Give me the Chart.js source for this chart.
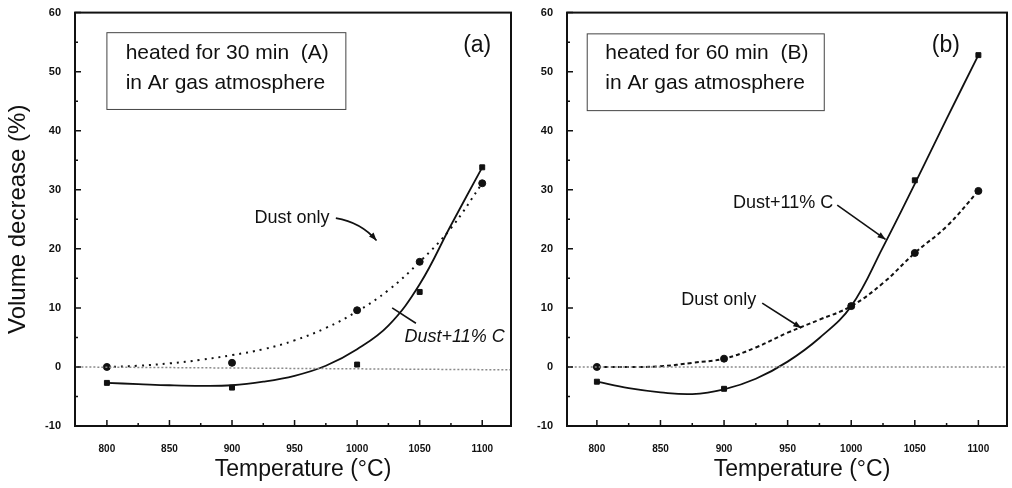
<!DOCTYPE html>
<html>
<head>
<meta charset="utf-8">
<script src="https://cdn.jsdelivr.net/npm/chart.js@4.4.1/dist/chart.umd.min.js"></script>
<style>
  body { margin: 0; background: #fff; width: 1012px; height: 488px; overflow: hidden; position: relative; }
  .panel { position: absolute; top: 0; height: 488px; }
</style>
</head>
<body>

<div class="panel" style="left:0;width:516px"><canvas id="chartA"></canvas></div>
<div class="panel" style="left:516px;width:496px"><canvas id="chartB"></canvas></div>

<script>
// measured points
const temps = [800, 900, 1000, 1050, 1100];
const dustA = [0, 0.7, 9.6, 17.8, 31.1];
const carbonA = [-2.7, -3.5, 0.4, 12.7, 33.8];
const dustB = [0, 1.4, 10.3, 19.3, 29.8];
const carbonB = [-2.5, -3.7, 10.3, 31.6, 52.8];

// fitted curves
const fitTemps = [800, 825, 850, 875, 900, 925, 950, 975, 1000, 1025, 1050, 1075, 1100];
const dustFitA = [0, 0.2, 0.6, 1.2, 2.0, 3.0, 4.5, 6.6, 9.4, 13.0, 17.8, 23.5, 31.1];
const carbonFitA = [-2.7, -2.9, -3.1, -3.2, -3.1, -2.5, -1.5, 0.2, 3.0, 7.0, 14.0, 24.0, 33.8];
const dustFitB = [0, 0, 0.1, 0.7, 1.4, 3.3, 5.8, 8.0, 10.3, 14.2, 19.3, 23.8, 29.8];
const carbonFitB = [-2.5, -3.6, -4.3, -4.6, -3.8, -2.0, 0.9, 4.9, 10.3, 20.3, 31.0, 42.0, 52.8];

// zero reference line
const zeroTemps = [770, 1130];
const zeroA = [0, -0.5];
const zeroB = [0, 0];

const xTicks = [800, 850, 900, 950, 1000, 1050, 1100];
const yTicks = [-10, 0, 10, 20, 30, 40, 50, 60];

const FONT = "'Liberation Sans', Arial, sans-serif";

const decor = {
  id: 'decor',
  afterDraw(chart, args, opts) {
    const { ctx, chartArea: a } = chart;
    const x = chart.scales.x, y = chart.scales.y;
    const px = t => x.getPixelForValue(t), py = v => y.getPixelForValue(v);
    ctx.save();
    ctx.strokeStyle = '#111';
    ctx.fillStyle = '#111';
    ctx.lineWidth = 2;
    ctx.strokeRect(a.left, a.top, a.right - a.left, a.bottom - a.top);

    // inward ticks
    ctx.lineWidth = 1.5;
    ctx.beginPath();
    xTicks.forEach(t => {
      ctx.moveTo(px(t), a.bottom); ctx.lineTo(px(t), a.bottom - 6);
      if (t + 25 < x.max) { ctx.moveTo(px(t + 25), a.bottom); ctx.lineTo(px(t + 25), a.bottom - 3); }
    });
    yTicks.forEach(v => {
      ctx.moveTo(a.left, py(v)); ctx.lineTo(a.left + 6, py(v));
      if (v + 5 < y.max) { ctx.moveTo(a.left, py(v + 5)); ctx.lineTo(a.left + 3, py(v + 5)); }
    });
    ctx.stroke();

    // text box
    const b = opts.box;
    ctx.lineWidth = 1;
    ctx.strokeStyle = '#444';
    ctx.strokeRect(px(b.x0), py(b.y0), px(b.x1) - px(b.x0), py(b.y1) - py(b.y0));
    ctx.font = '21px ' + FONT;
    ctx.textAlign = 'left';
    ctx.textBaseline = 'middle';
    ctx.fillText(b.lines[0], px(b.tx), py(b.ty[0]));
    ctx.fillText(b.lines[1], px(b.tx), py(b.ty[1]));

    // panel letter
    ctx.font = '23px ' + FONT;
    ctx.textAlign = 'center';
    ctx.fillText(opts.letter.text, px(opts.letter.x), py(opts.letter.y));

    // labels
    opts.labels.forEach(l => {
      ctx.font = (l.italic ? 'italic ' : '') + l.size + 'px ' + FONT;
      ctx.fillText(l.text, px(l.x), py(l.y));
    });

    // pointers
    ctx.strokeStyle = '#111';
    ctx.lineWidth = 1.6;
    opts.pointers.forEach(p => {
      const x0 = px(p.from[0]), y0 = py(p.from[1]);
      const x1 = px(p.to[0]), y1 = py(p.to[1]);
      ctx.beginPath();
      ctx.moveTo(x0, y0);
      let ax = x0, ay = y0;
      if (p.ctrl) {
        const cx = px(p.ctrl[0]), cy = py(p.ctrl[1]);
        ctx.quadraticCurveTo(cx, cy, x1, y1);
        ax = cx; ay = cy;
      } else {
        ctx.lineTo(x1, y1);
      }
      ctx.stroke();
      if (p.head) {
        const ang = Math.atan2(y1 - ay, x1 - ax);
        ctx.beginPath();
        ctx.moveTo(x1, y1);
        ctx.lineTo(x1 - 8 * Math.cos(ang) + 3 * Math.sin(ang), y1 - 8 * Math.sin(ang) - 3 * Math.cos(ang));
        ctx.lineTo(x1 - 8 * Math.cos(ang) - 3 * Math.sin(ang), y1 - 8 * Math.sin(ang) + 3 * Math.cos(ang));
        ctx.closePath();
        ctx.fill();
      }
    });

    // x axis title
    ctx.font = '23px ' + FONT;
    ctx.textAlign = 'center';
    ctx.textBaseline = 'middle';
    ctx.fillText('Temperature (\u00b0C)', (a.left + a.right) / 2 + opts.titleShift, 470);
    ctx.restore();
  }
};

function pts(xs, ys) { return xs.map((t, i) => ({ x: t, y: ys[i] })); }

function makePanel(id, d) {
  const datasets = [
    { data: pts(zeroTemps, d.zero), borderColor: '#8a8a8a', borderWidth: 1.5, borderDash: [2, 2], pointRadius: 0 },
    { data: pts(fitTemps, d.dustFit), borderColor: '#111', borderWidth: 2, borderDash: d.dash, pointRadius: 0, tension: 0.4 },
    { data: pts(fitTemps, d.carbonFit), borderColor: '#111', borderWidth: 1.8, pointRadius: 0, tension: 0.4 },
    { data: pts(temps, d.dust), showLine: false, pointRadius: 3.5, pointStyle: 'circle', backgroundColor: '#111', borderColor: '#111' },
    { data: pts(temps, d.carbon), showLine: false, pointRadius: 3.5, pointStyle: 'rect', backgroundColor: '#111', borderColor: '#111' }
  ];

  new Chart(document.getElementById(id), {
    type: 'line',
    data: { datasets },
    plugins: [decor],
    options: {
      responsive: true,
      maintainAspectRatio: false,
      animation: false,
      layout: { padding: { top: 12, right: d.padRight, left: 0, bottom: 0 } },
      plugins: {
        legend: { display: false },
        tooltip: { enabled: false },
        decor: d.decor
      },
      scales: {
        x: {
          type: 'linear', min: d.xMin, max: d.xMax,
          afterBuildTicks: s => { s.ticks = xTicks.map(v => ({ value: v })); },
          afterFit: s => { s.height = 62; },
          grid: { display: false },
          border: { display: false },
          ticks: { color: '#111', padding: 9, maxRotation: 0, callback: v => String(v),
                   font: { family: FONT, size: 10, weight: 'bold' } }
        },
        y: {
          min: -10, max: 60,
          afterBuildTicks: s => { s.ticks = yTicks.map(v => ({ value: v })); },
          afterFit: s => { s.width = d.yWidth; },
          grid: { display: false },
          border: { display: false },
          ticks: { color: '#111', padding: 6, callback: v => String(v),
                   font: { family: FONT, size: 11, weight: 'bold' } },
          title: { display: d.yTitle, text: 'Volume decrease (%)', color: '#111', padding: { top: 4, bottom: 0 }, font: { family: FONT, size: 24 } }
        }
      }
    }
  });
}

makePanel('chartA', {
  zero: zeroA, dustFit: dustFitA, carbonFit: carbonFitA, dust: dustA, carbon: carbonA,
  xMin: 774.5, xMax: 1123, dash: [2, 5], padRight: 3, yWidth: 75, yTitle: true,
  decor: {
    titleShift: 10,
    box: { x0: 800, x1: 991, y0: 56.6, y1: 43.6, tx: 815, ty: [53.2, 48.0],
           lines: ['heated for 30 min  (A)', 'in Ar gas atmosphere'] },
    letter: { text: '(a)', x: 1096, y: 54.4 },
    labels: [
      { text: 'Dust only', x: 948, y: 25.2, size: 18 },
      { text: 'Dust+11% C', x: 1078, y: 5.0, size: 18, italic: true }
    ],
    pointers: [
      { from: [983, 25.2], ctrl: [1003, 24.5], to: [1015.5, 21.4], head: true },
      { from: [1028, 10.0], to: [1047, 7.4], head: false }
    ]
  }
});

makePanel('chartB', {
  zero: zeroB, dustFit: dustFitB, carbonFit: carbonFitB, dust: dustB, carbon: carbonB,
  xMin: 776.5, xMax: 1122.5, dash: [4, 3], padRight: 2, yWidth: 51, yTitle: false,
  decor: {
    titleShift: 15,
    box: { x0: 792.4, x1: 978.8, y0: 56.4, y1: 43.4, tx: 806.6, ty: [53.2, 48.0],
           lines: ['heated for 60 min  (B)', 'in Ar gas atmosphere'] },
    letter: { text: '(b)', x: 1074.4, y: 54.4 },
    labels: [
      { text: 'Dust+11% C', x: 946.4, y: 27.7, size: 18 },
      { text: 'Dust only', x: 895.9, y: 11.3, size: 18 }
    ],
    pointers: [
      { from: [989, 27.4], to: [1027, 21.6], head: true },
      { from: [930, 10.8], to: [960.7, 6.6], head: true }
    ]
  }
});
</script>
</body>
</html>
